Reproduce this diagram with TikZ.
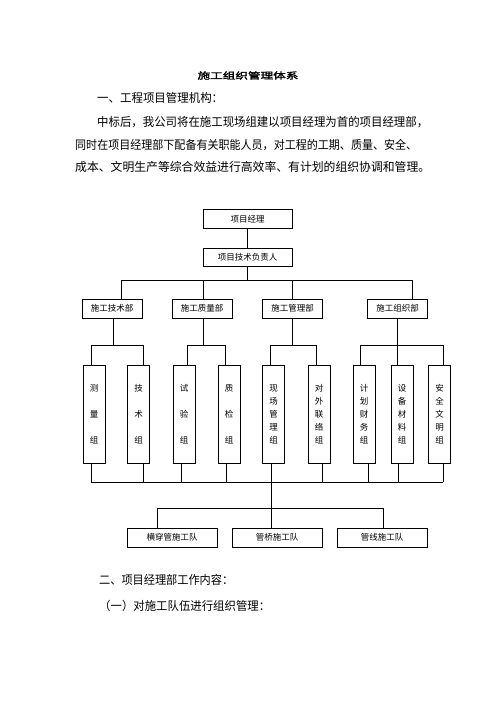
\documentclass[tikz,border=0pt]{standalone}
\usepackage{fontspec}
\usepackage{graphicx}
\newfontfamily\cjk{Noto Sans CJK SC}
\newfontfamily\cjkb[FakeBold=2]{Noto Sans CJK SC}
\newcommand{\fitline}[2]{\resizebox{#1pt}{\height}{#2}}
\begin{document}
\begin{tikzpicture}[x=1pt,y=-1pt,
  box/.style={draw,line width=0.8pt,inner sep=0pt,font=\cjk\fontsize{8.5}{10}\selectfont},
  hbox/.style={box,minimum width=89pt,minimum height=18.5pt},
  dbox/.style={box,minimum width=60pt,minimum height=19pt},
  gbox/.style={box,minimum width=22pt,minimum height=98pt,align=center},
  tbox/.style={box,minimum width=90pt,minimum height=19pt},
  g3/.style={font=\cjk\fontsize{8.5}{26}\selectfont},
  g5/.style={font=\cjk\fontsize{8.5}{13}\selectfont},
  ln/.style={line width=0.8pt},
  body/.style={inner sep=0pt,anchor=west,font=\cjk\fontsize{12}{14}\selectfont}]
\useasboundingbox (0,0) rectangle (496,702);
\fill[white] (0,0) rectangle (496,702);

% text
\node[inner sep=0pt,font=\cjkb\fontsize{9}{10}\selectfont] (title) at (248,75.5) {\scalebox{1.4}[1]{施工组织管理体系}};
\node[body] (h1) at (97,98) {\fitline{126}{一、工程项目管理机构：}};
\node[body] (p1) at (97,122) {\fitline{331}{中标后，我公司将在施工现场组建以项目经理为首的项目经理部，}};
\node[body] (p2) at (75,145) {\fitline{342}{同时在项目经理部下配备有关职能人员，对工程的工期、质量、安全、}};
\node[body] (p3) at (75,167) {\fitline{355}{成本、文明生产等综合效益进行高效率、有计划的组织协调和管理。}};
\node[body] (h2) at (99,580) {\fitline{134}{二、项目经理部工作内容：}};
\node[body] (h3) at (99,606) {\fitline{171}{（一）对施工队伍进行组织管理：}};

% boxes
\node[hbox] (pm) at (247.5,219) {项目经理};
\node[hbox] (tl) at (247.5,257.5) {项目技术负责人};
\node[dbox] (d1) at (112,308.5) {施工技术部};
\node[dbox] (d2) at (202,308.5) {施工质量部};
\node[dbox] (d3) at (292.5,308.5) {施工管理部};
\node[dbox] (d4) at (397.5,308.5) {施工组织部};

\node[gbox,g3] (g1) at (94,414) {测\\量\\组};
\node[gbox,g3] (g2) at (138.5,414) {技\\术\\组};
\node[gbox,g3] (g3n) at (184,414) {试\\验\\组};
\node[gbox,g3] (g4) at (229,414) {质\\检\\组};
\node[gbox,g5] (g5n) at (273.5,414) {现\\场\\管\\理\\组};
\node[gbox,g5] (g6) at (319,414) {对\\外\\联\\络\\组};
\node[gbox,g5] (g7) at (364,414) {计\\划\\财\\务\\组};
\node[gbox,g5] (g8) at (402,414) {设\\备\\材\\料\\组};
\node[gbox,g5] (g9) at (439.5,414) {安\\全\\文\\明\\组};

\node[tbox] (t1) at (172,537.5) {横穿管施工队};
\node[tbox] (t2) at (277,537.5) {管桥施工队};
\node[tbox] (t3) at (382,537.5) {管线施工队};

% connectors
\draw[ln] (pm) -- (tl);
\coordinate (bus) at (247.5,280);
\draw[ln] (tl.south) -- (bus);
\coordinate (b1) at (121,280);
\coordinate (b4) at (412,280);
\draw[ln] (b1) -- (b4);
\draw[ln] (b1) -- (b1 |- d1.north);
\draw[ln] (203,280) -- (203,299) coordinate (d2t);
\draw[ln] (292,280) -- (292,299);
\draw[ln] (b4) -- (b4 |- d4.north);

% group buses
\coordinate (s1) at (113,345);
\draw[ln] (s1 |- d1.south) -- (s1);
\draw[ln] (91,345) -- (143,345);
\draw[ln] (91,345) -- (91,365) (143,345) -- (143,365);
\coordinate (s2) at (203,345);
\draw[ln] (s2 |- d2.south) -- (s2);
\draw[ln] (187,365) |- (225,345) -- (225,365);
\coordinate (s3) at (292,345);
\draw[ln] (s3 |- d3.south) -- (s3);
\draw[ln] (270,365) |- (316,345) -- (316,365);
\coordinate (s4) at (397,345);
\draw[ln] (s4 |- d4.south) -- (s4 |- g8.north);
\draw[ln] (360,365) |- (443,345) -- (443,365);

% bottom bus
\coordinate (u) at (91,482);
\coordinate (v) at (443,482);
\draw[ln] (u) -- (v);
\foreach \x in {91,143,181,226,271,322,368,398,443}
  \draw[ln] (\x,463) -- (\x,482);
\coordinate (w) at (271,508);
\draw[ln] (271,482) -- (w);
\draw[ln] (157,528) |- (383,508) -- (383,528);
\draw[ln] (w) -- (w |- t2.north);
\end{tikzpicture}
\end{document}
